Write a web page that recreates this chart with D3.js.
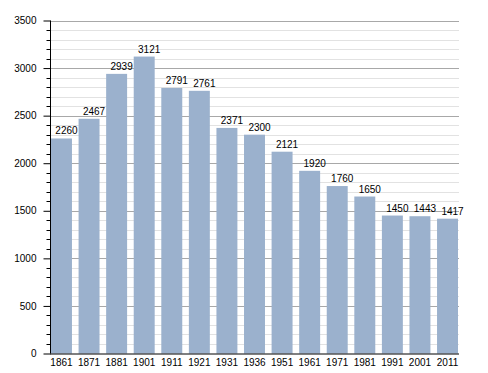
<!DOCTYPE html>
<html>
<head>
<meta charset="utf-8">
<script src="https://cdn.jsdelivr.net/npm/d3@7"></script>
<style>
  body { margin: 0; background: #fff; }
  text { font-family: "Liberation Sans", Arial, sans-serif; }
</style>
</head>
<body>
<script>
// census years and population
let years = ["1861", "1871", "1881", "1901", "1911", "1921", "1931", "1936", "1951", "1961", "1971", "1981", "1991", "2001", "2011"]
let population = [2260, 2467, 2939, 3121, 2791, 2761, 2371, 2300, 2121, 1920, 1760, 1650, 1450, 1443, 1417]
let majorTicks = [0, 500, 1000, 1500, 2000, 2500, 3000, 3500]

let width = 488
let height = 373

let svg = d3.select("body")
    .append("svg")
    .attr("width", width)
    .attr("height", height)

let plotLeft = 50, plotRight = 459, plotTop = 20.5, plotBottom = 353.5

let y = d3.scaleLinear()
    .domain([0, 3500])
    .range([plotBottom, plotTop])

let x = d3.scaleBand()
    .domain(years)
    .range([plotLeft + 1, plotRight - 1])
    .paddingInner(0.24)
    .paddingOuter(0)

let minorTicks = d3.range(0, 3501, 100)

// gridlines, light ones first
svg.append("g")
    .selectAll("line")
    .data(minorTicks.filter(d => d % 500 != 0))
    .enter()
    .append("line")
    .attr("x1", plotLeft)
    .attr("x2", plotRight)
    .attr("y1", d => Math.round(y(d)) + 0.5)
    .attr("y2", d => Math.round(y(d)) + 0.5)
    .attr("stroke", "#e2e2e2")

svg.append("g")
    .selectAll("line")
    .data(majorTicks.filter(d => d > 0))
    .enter()
    .append("line")
    .attr("x1", plotLeft)
    .attr("x2", plotRight)
    .attr("y1", d => Math.round(y(d)) + 0.5)
    .attr("y2", d => Math.round(y(d)) + 0.5)
    .attr("stroke", "#a8a8a8")

// bars
svg.append("g")
    .selectAll("rect")
    .data(population)
    .enter()
    .append("rect")
    .attr("x", (d, i) => x(years[i]))
    .attr("y", d => y(d))
    .attr("width", x.bandwidth())
    .attr("height", d => plotBottom - y(d))
    .attr("fill", "#9bb1cd")

// value labels
svg.append("g")
    .selectAll("text")
    .data(population)
    .enter()
    .append("text")
    .attr("x", (d, i) => x(years[i]) + x.bandwidth() / 2 + 5)
    .attr("y", d => y(d) - 4)
    .attr("text-anchor", "middle")
    .attr("font-size", "10px")
    .attr("fill", "#000")
    .text(d => d)

// y axis with minor ticks
let yAxis = d3.axisLeft(y)
    .tickValues(majorTicks)
    .tickSize(7)
    .tickPadding(7)
    .tickFormat(d3.format("d"))

let yg = svg.append("g")
    .attr("transform", `translate(${plotLeft + 0.5},0)`)
    .call(yAxis)
yg.select(".domain").attr("d", `M0,${plotTop}V${plotBottom}`)
yg.selectAll("text").attr("font-size", "10px").attr("font-family", "Liberation Sans, Arial, sans-serif")

yg.append("g")
    .selectAll("line")
    .data(minorTicks.filter(d => d % 500 != 0))
    .enter()
    .append("line")
    .attr("x1", -4)
    .attr("x2", 0)
    .attr("y1", d => Math.round(y(d)) + 0.5)
    .attr("y2", d => Math.round(y(d)) + 0.5)
    .attr("stroke", "#000")

// x axis
let xAxis = d3.axisBottom(x).tickSize(0).tickPadding(5)
let xg = svg.append("g")
    .attr("transform", `translate(0,${plotBottom + 0.5})`)
    .call(xAxis)
xg.select(".domain").attr("d", `M${plotLeft},0H${plotRight}`)
xg.selectAll("text").attr("font-size", "10px").attr("font-family", "Liberation Sans, Arial, sans-serif")
</script>
</body>
</html>
